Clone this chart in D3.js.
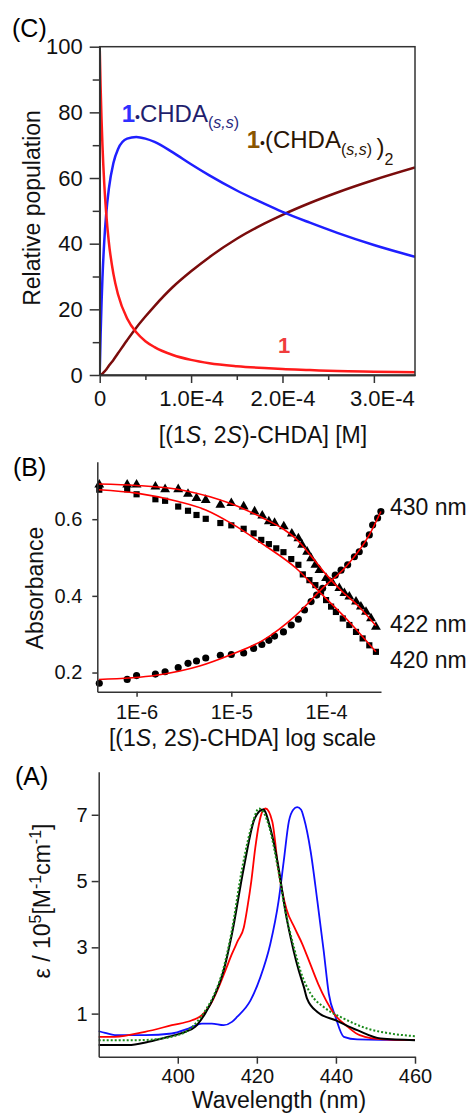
<!DOCTYPE html>
<html>
<head>
<meta charset="utf-8">
<script src="https://cdn.jsdelivr.net/npm/d3@7"></script>
<style>
  body { margin: 0; background: #fff; }
  text { font-family: "Liberation Sans", Arial, sans-serif; }
</style>
</head>
<body>
<div id="chart"></div>
<script>
/** DATA */
// (C) population vs concentration [M]
const concC   = [0, 1e-6, 2e-6, 3e-6, 5e-6, 7e-6, 1e-5, 1.5e-5, 2e-5, 3e-5, 4e-5, 5e-5, 6e-5, 8e-5, 1e-4, 1.2e-4, 1.5e-4, 1.8e-4, 2e-4, 2.3e-4, 2.6e-4, 3e-4, 3.45e-4];
const freeHost = [100, 87.7, 78.0, 70.1, 58.2, 49.7, 40.5, 30.8, 24.6, 17.2, 13.0, 10.3, 8.5, 6.1, 4.6, 3.6, 2.7, 2.1, 1.8, 1.5, 1.2, 1.0, 0.8];
const monoAdduct = [0, 12.3, 21.8, 29.5, 40.8, 48.7, 56.7, 64.6, 68.8, 72.0, 72.5, 72.0, 71.0, 67.8, 64.2, 60.8, 56.2, 52.2, 49.7, 46.4, 43.3, 39.6, 36.0];
const bisAdduct  = [0, 0.1, 0.2, 0.4, 1.0, 1.6, 2.8, 4.6, 6.6, 10.6, 14.4, 17.8, 21.0, 26.8, 31.6, 35.9, 41.5, 46.1, 48.8, 52.4, 55.6, 59.4, 63.2];
const yTicksC = [0, 20, 40, 60, 80, 100];
const xTicksC = [0, 1e-4, 2e-4, 3e-4];

// (B) absorbance titration, log concentration
const triConc = [4.04e-7, 7.96e-7, 1.0e-6, 1.58e-6, 2.0e-6, 2.75e-6, 3.49e-6, 4.29e-6, 5.37e-6, 7.66e-6, 1.0e-5, 1.35e-5, 1.76e-5, 2.12e-5, 2.49e-5, 2.86e-5, 3.58e-5, 4.35e-5, 5.1e-5, 5.58e-5, 6.31e-5, 6.95e-5, 7.71e-5, 8.51e-5, 1.0e-4, 1.17e-4, 1.38e-4, 1.56e-4, 1.76e-4, 2.07e-4, 2.33e-4, 2.64e-4, 2.98e-4, 3.36e-4];
const triAbs  = [0.690, 0.690, 0.690, 0.685, 0.678, 0.678, 0.666, 0.655, 0.650, 0.637, 0.642, 0.633, 0.620, 0.609, 0.594, 0.590, 0.581, 0.562, 0.550, 0.533, 0.515, 0.498, 0.481, 0.467, 0.446, 0.433, 0.420, 0.407, 0.398, 0.385, 0.372, 0.358, 0.341, 0.319];
const sqConc = [4.04e-7, 7.96e-7, 1.0e-6, 1.58e-6, 2.0e-6, 2.75e-6, 3.49e-6, 4.29e-6, 5.37e-6, 7.66e-6, 1.0e-5, 1.35e-5, 1.72e-5, 2.07e-5, 2.49e-5, 2.98e-5, 3.55e-5, 4.29e-5, 5.1e-5, 5.68e-5, 6.67e-5, 7.71e-5, 8.85e-5, 1.0e-4, 1.13e-4, 1.27e-4, 1.5e-4, 1.76e-4, 2.07e-4, 2.43e-4, 2.86e-4, 3.36e-4];
const sqAbs  = [0.677, 0.678, 0.665, 0.652, 0.648, 0.633, 0.622, 0.611, 0.601, 0.590, 0.584, 0.575, 0.563, 0.546, 0.535, 0.524, 0.514, 0.496, 0.481, 0.456, 0.441, 0.428, 0.411, 0.389, 0.372, 0.358, 0.341, 0.324, 0.306, 0.289, 0.271, 0.254];
const circConc = [4.04e-7, 7.96e-7, 1.0e-6, 1.58e-6, 2.0e-6, 2.75e-6, 3.49e-6, 4.29e-6, 5.37e-6, 7.66e-6, 1.0e-5, 1.35e-5, 1.72e-5, 2.1e-5, 2.49e-5, 2.86e-5, 3.55e-5, 4.29e-5, 5.1e-5, 5.92e-5, 6.95e-5, 7.96e-5, 9.2e-5, 1.08e-4, 1.25e-4, 1.44e-4, 1.69e-4, 1.99e-4, 2.24e-4, 2.53e-4, 2.86e-4, 3.1e-4, 3.5e-4, 3.79e-4];
const circAbs  = [0.172, 0.182, 0.192, 0.196, 0.202, 0.213, 0.224, 0.230, 0.238, 0.245, 0.247, 0.251, 0.263, 0.273, 0.284, 0.295, 0.306, 0.324, 0.339, 0.363, 0.385, 0.402, 0.420, 0.439, 0.454, 0.467, 0.481, 0.502, 0.515, 0.535, 0.559, 0.585, 0.603, 0.620];
// red fitted curves
const fitTriConc = [4.0e-7, 1e-6, 3.16e-6, 1e-5, 2.15e-5, 3.5e-5, 5e-5, 7e-5, 1e-4, 1.5e-4, 2.2e-4, 3.36e-4];
const fitTriAbs  = [0.692, 0.688, 0.675, 0.640, 0.603, 0.575, 0.545, 0.503, 0.456, 0.410, 0.373, 0.322];
const fitSqConc = [4.0e-7, 1e-6, 2.75e-6, 5.37e-6, 1e-5, 2.15e-5, 4.83e-5, 9.2e-5, 1.76e-4, 3.36e-4];
const fitSqAbs  = [0.677, 0.668, 0.646, 0.624, 0.589, 0.535, 0.472, 0.402, 0.332, 0.254];
const fitCircConc = [4.0e-7, 1.62e-6, 4.63e-6, 1e-5, 2.15e-5, 4.83e-5, 9.2e-5, 1.62e-4, 2.86e-4, 3.79e-4];
const fitCircAbs  = [0.182, 0.193, 0.217, 0.247, 0.284, 0.350, 0.420, 0.476, 0.559, 0.620];
const yTicksB = [0.2, 0.4, 0.6];
const xTicksB = [1e-6, 1e-5, 1e-4];
const xTickLabelsB = ["1E-6", "1E-5", "1E-4"];

// (A) spectra: wavelength [nm], epsilon / 1e5
const blackWl = [380, 387.5, 392.6, 397.6, 401.9, 404.4, 406.9, 409.5, 411.6, 413.7, 416.7, 419.5, 421.6, 423.4, 425.5, 427.2, 429.3, 430.6, 431.9, 432.7, 435.3, 440.3, 445.4, 451.3, 460];
const blackEps = [0.05, 0.05, 0.15, 0.30, 0.45, 0.6, 1.0, 1.6, 2.3, 3.4, 5.4, 6.9, 7.16, 6.6, 5.4, 4.1, 2.9, 2.3, 1.8, 1.45, 1.05, 0.78, 0.5, 0.25, 0.2];
const greenWl = [380, 390, 396, 399, 402.7, 405.2, 407, 409.3, 411.4, 413.5, 416.3, 419.3, 420.5, 421.8, 423.2, 425.3, 427.2, 429.6, 431, 433.6, 436.9, 442, 447.9, 453.8, 460];
const greenEps = [0.2, 0.2, 0.25, 0.32, 0.5, 0.8, 1.1, 1.6, 2.3, 3.4, 5.4, 6.9, 7.19, 7.05, 6.6, 5.4, 4.1, 2.9, 2.3, 1.6, 1.2, 0.85, 0.55, 0.4, 0.32];
const redWl = [380, 384, 391.7, 398.5, 403.6, 406.1, 408.6, 410.7, 412.2, 413.7, 415.2, 416.7, 417.6, 418.6, 419.6, 420.5, 421.4, 422.2, 423.9, 425.5, 427.5, 429.5, 431.5, 433.5, 435.5, 437.5, 439.5, 443, 446, 452, 460];
const redEps = [0.3, 0.3, 0.45, 0.65, 0.8, 0.95, 1.35, 1.9, 2.35, 2.8, 3.2, 3.6, 4.2, 5.0, 6.0, 6.7, 7.1, 7.19, 6.8, 5.3, 4.15, 3.6, 3.1, 2.5, 1.9, 1.4, 1.0, 0.6, 0.35, 0.22, 0.2];
const blueWl = [380, 381.6, 384.1, 391.7, 398.5, 402.7, 406.1, 408.6, 411.6, 413.7, 415, 418.4, 420.9, 423.4, 425.5, 426.8, 428.1, 429.2, 430.2, 431.2, 431.9, 433.6, 435.3, 436.9, 438.2, 439.9, 442, 445.4, 460];
const blueEps = [0.47, 0.42, 0.35, 0.35, 0.4, 0.55, 0.7, 0.7, 0.65, 0.75, 0.9, 1.4, 2.1, 3.1, 4.4, 5.6, 6.8, 7.15, 7.23, 7.15, 6.9, 5.9, 4.4, 2.9, 1.6, 0.9, 0.3, 0.22, 0.2];
const yTicksA = [1, 3, 5, 7];
const xTicksA = [400, 420, 440, 460];

/** CONSTANTS */
const width = 469, height = 1113;
const axisColor = "#333";
const zip = (xs, ys) => xs.map((x, i) => ({ x: x, y: ys[i] }));

const svg = d3.select("#chart")
  .append("svg")
  .attr("width", width)
  .attr("height", height);

function styleAxis(g, fontSize) {
  g.attr("font-family", null).attr("font-size", null);
  g.select(".domain").attr("stroke", axisColor).attr("stroke-width", 1.5);
  g.selectAll(".tick line").attr("stroke", axisColor).attr("stroke-width", 1.5);
  g.selectAll(".tick text").attr("font-size", fontSize).attr("fill", "#111");
}

/** PANEL C */
const xC = d3.scaleLinear().domain([0, 3.45e-4]).range([99.7, 415]);
const yC = d3.scaleLinear().domain([0, 100]).range([375, 46.7]);

svg.append("defs").append("clipPath").attr("id", "clipC")
  .append("rect")
  .attr("x", xC(0)).attr("y", yC(100))
  .attr("width", xC(3.45e-4) - xC(0)).attr("height", yC(0) - yC(100));

const lineC = d3.line().x(d => xC(d.x)).y(d => yC(d.y)).curve(d3.curveMonotoneX);
const seriesC = [
  { vals: bisAdduct, color: "#7a0c0c" },
  { vals: monoAdduct, color: "#1f1fff" },
  { vals: freeHost, color: "#ff1a1a" }
];
svg.append("g").attr("clip-path", "url(#clipC)")
  .selectAll("path")
  .data(seriesC)
  .join("path")
  .attr("d", s => lineC(zip(concC, s.vals)))
  .attr("fill", "none")
  .attr("stroke", s => s.color)
  .attr("stroke-width", 2.5);

// frame
svg.append("rect")
  .attr("x", xC(0)).attr("y", yC(100))
  .attr("width", xC(3.45e-4) - xC(0)).attr("height", yC(0) - yC(100))
  .attr("fill", "none").attr("stroke", axisColor).attr("stroke-width", 1.5);

svg.append("g")
  .attr("transform", `translate(${xC(0)},0)`)
  .call(d3.axisLeft(yC).tickValues([10, 30, 50, 70, 90]).tickSize(7).tickSizeOuter(0).tickFormat(""))
  .call(g => styleAxis(g, 22));
svg.append("g")
  .attr("transform", `translate(${xC(0)},0)`)
  .call(d3.axisLeft(yC).tickValues(yTicksC).tickSize(10).tickPadding(7).tickSizeOuter(0))
  .call(g => styleAxis(g, 22));

svg.append("g")
  .attr("transform", `translate(0,${yC(0)})`)
  .call(d3.axisBottom(xC).tickValues([0.5e-4, 1.5e-4, 2.5e-4]).tickSize(5).tickSizeOuter(0).tickFormat(""))
  .call(g => styleAxis(g, 22));
svg.append("g")
  .attr("transform", `translate(0,${yC(0)})`)
  .call(d3.axisBottom(xC).tickValues(xTicksC).tickSize(8).tickPadding(7).tickSizeOuter(0)
    .tickFormat(d => d === 0 ? "0" : (d / 1e-4).toFixed(1) + "E-4"))
  .call(g => styleAxis(g, 22))
  .call(g => g.selectAll(".tick text").filter(d => d === 3e-4).attr("dx", 8));

svg.append("text").attr("x", 12).attr("y", 37).attr("font-size", 25).text("(C)");

svg.append("text")
  .attr("transform", "translate(40,208) rotate(-90)")
  .attr("text-anchor", "middle").attr("font-size", 23).attr("fill", "#111")
  .text("Relative population");

const titleC = svg.append("text")
  .attr("x", 263).attr("y", 443).attr("text-anchor", "middle")
  .attr("font-size", 23).attr("fill", "#111");
titleC.append("tspan").text("[(1");
titleC.append("tspan").attr("font-style", "italic").text("S");
titleC.append("tspan").text(", 2");
titleC.append("tspan").attr("font-style", "italic").text("S");
titleC.append("tspan").text(")-CHDA] [M]");

// species labels
const lab1 = svg.append("text").attr("x", 121.7).attr("y", 121.7).attr("font-size", 24);
lab1.append("tspan").attr("font-weight", "bold").attr("fill", "#2f2fff").text("1");
lab1.append("tspan").attr("font-size", 14).attr("fill", "#1f1f6e").text("•");
lab1.append("tspan").attr("fill", "#1f1f6e").text("CHDA");
lab1.append("tspan").attr("font-size", 16).attr("dy", 6.3).attr("fill", "#2a2a80").text("(");
lab1.append("tspan").attr("font-size", 16).attr("font-style", "italic").attr("fill", "#2a2a80").text("s,s");
lab1.append("tspan").attr("font-size", 16).attr("fill", "#2a2a80").text(")");

const lab2 = svg.append("text").attr("x", 246.7).attr("y", 148.3).attr("font-size", 24);
lab2.append("tspan").attr("font-weight", "bold").attr("fill", "#8a5500").text("1");
lab2.append("tspan").attr("font-size", 14).attr("fill", "#2a1505").text("•");
lab2.append("tspan").attr("fill", "#2a1505").text("(CHDA");
lab2.append("tspan").attr("font-size", 16).attr("dy", 6.7).attr("fill", "#2a1505").text("(");
lab2.append("tspan").attr("font-size", 16).attr("font-style", "italic").attr("fill", "#2a1505").text("s,s");
lab2.append("tspan").attr("font-size", 16).attr("fill", "#2a1505").text(") ");
lab2.append("tspan").attr("fill", "#2a1505").text(")");
lab2.append("tspan").attr("font-size", 16).attr("dy", 10).attr("fill", "#2a1505").text("2");

svg.append("text").attr("x", 278).attr("y", 353)
  .attr("font-size", 22).attr("font-weight", "bold").attr("fill", "#f03c3c").text("1");

/** PANEL B */
const xB = d3.scaleLog().domain([3.85e-7, 3.8e-4]).range([97.3, 381]);
const yB = d3.scaleLinear().domain([0.15, 0.75]).range([691.7, 461.7]);

const markers = [
  { conc: triConc, abs: triAbs, type: d3.symbolTriangle, size: 42 },
  { conc: sqConc, abs: sqAbs, type: d3.symbolSquare, size: 38 },
  { conc: circConc, abs: circAbs, type: d3.symbolCircle, size: 40 }
];
markers.forEach(m => {
  svg.append("g")
    .selectAll("path")
    .data(zip(m.conc, m.abs))
    .join("path")
    .attr("transform", d => `translate(${xB(d.x)},${yB(d.y)})`)
    .attr("d", d3.symbol().type(m.type).size(m.size))
    .attr("fill", "#000");
});

const lineB = d3.line().x(d => xB(d.x)).y(d => yB(d.y)).curve(d3.curveMonotoneX);
[[fitTriConc, fitTriAbs], [fitSqConc, fitSqAbs], [fitCircConc, fitCircAbs]].forEach(f => {
  svg.append("path")
    .attr("d", lineB(zip(f[0], f[1])))
    .attr("fill", "none").attr("stroke", "#ff0000").attr("stroke-width", 1.6);
});

svg.append("g")
  .attr("transform", `translate(${xB.range()[0]},0)`)
  .call(d3.axisLeft(yB).tickValues(yTicksB).tickSize(5).tickPadding(10).tickSizeOuter(0).tickFormat(d3.format(".1f")))
  .call(g => styleAxis(g, 20));
svg.append("g")
  .attr("transform", `translate(0,${yB.range()[0]})`)
  .call(d3.axisBottom(xB).tickValues(xTicksB).tickSize(5).tickPadding(8).tickSizeOuter(0)
    .tickFormat((d, i) => xTickLabelsB[i]))
  .call(g => styleAxis(g, 20));

svg.append("text").attr("x", 13).attr("y", 476).attr("font-size", 25).text("(B)");
svg.append("text")
  .attr("transform", "translate(43,588) rotate(-90)")
  .attr("text-anchor", "middle").attr("font-size", 23).attr("fill", "#111")
  .text("Absorbance");

const titleB = svg.append("text")
  .attr("x", 242.5).attr("y", 746).attr("text-anchor", "middle")
  .attr("font-size", 23).attr("fill", "#111");
titleB.append("tspan").text("[(1");
titleB.append("tspan").attr("font-style", "italic").text("S");
titleB.append("tspan").text(", 2");
titleB.append("tspan").attr("font-style", "italic").text("S");
titleB.append("tspan").text(")-CHDA] log scale");

const wlLabels = [
  { t: "430 nm", y: 515 },
  { t: "422 nm", y: 632 },
  { t: "420 nm", y: 668 }
];
svg.selectAll("text.wl")
  .data(wlLabels)
  .join("text")
  .attr("class", "wl")
  .attr("x", 390).attr("y", d => d.y)
  .attr("font-size", 23).attr("fill", "#111")
  .text(d => d.t);

/** PANEL A */
const xA = d3.scaleLinear().domain([380, 460]).range([98.7, 415]);
const yA = d3.scaleLinear().domain([-0.3, 8.3]).range([1056.7, 771.7]);
const lineA = d3.line().x(d => xA(d.x)).y(d => yA(d.y)).curve(d3.curveMonotoneX);

const spectra = [
  { wl: blueWl, eps: blueEps, color: "#1010ff", w: 1.8, dash: null },
  { wl: redWl, eps: redEps, color: "#ff0000", w: 1.8, dash: null },
  { wl: blackWl, eps: blackEps, color: "#000", w: 2, dash: null },
  { wl: greenWl, eps: greenEps, color: "#1a8a1a", w: 2, dash: "2,2" }
];
svg.append("g")
  .selectAll("path")
  .data(spectra)
  .join("path")
  .attr("d", s => lineA(zip(s.wl, s.eps)))
  .attr("fill", "none")
  .attr("stroke", s => s.color)
  .attr("stroke-width", s => s.w)
  .attr("stroke-dasharray", s => s.dash);

svg.append("g")
  .attr("transform", `translate(${xA.range()[0]},0)`)
  .call(d3.axisLeft(yA).tickValues(yTicksA).tickSize(7).tickPadding(4).tickSizeOuter(0))
  .call(g => styleAxis(g, 20));
svg.append("g")
  .attr("transform", `translate(0,${yA.range()[0]})`)
  .call(d3.axisBottom(xA).tickValues(xTicksA).tickSize(7).tickPadding(5).tickSizeOuter(0))
  .call(g => styleAxis(g, 20));

svg.append("text").attr("x", 15).attr("y", 785).attr("font-size", 25).text("(A)");

const yLabA = svg.append("text")
  .attr("transform", "translate(50,901) rotate(-90)")
  .attr("text-anchor", "middle").attr("font-size", 23).attr("fill", "#111");
yLabA.append("tspan").text("ε / 10");
yLabA.append("tspan").attr("font-size", 16).attr("dy", -9).text("5");
yLabA.append("tspan").attr("dy", 9).text("[M");
yLabA.append("tspan").attr("font-size", 16).attr("dy", -9).text("-1");
yLabA.append("tspan").attr("dy", 9).text("cm");
yLabA.append("tspan").attr("font-size", 16).attr("dy", -9).text("-1");
yLabA.append("tspan").attr("dy", 9).text("]");

svg.append("text")
  .attr("x", 279).attr("y", 1108).attr("text-anchor", "middle")
  .attr("font-size", 23).attr("fill", "#111")
  .text("Wavelength (nm)");
</script>
</body>
</html>
